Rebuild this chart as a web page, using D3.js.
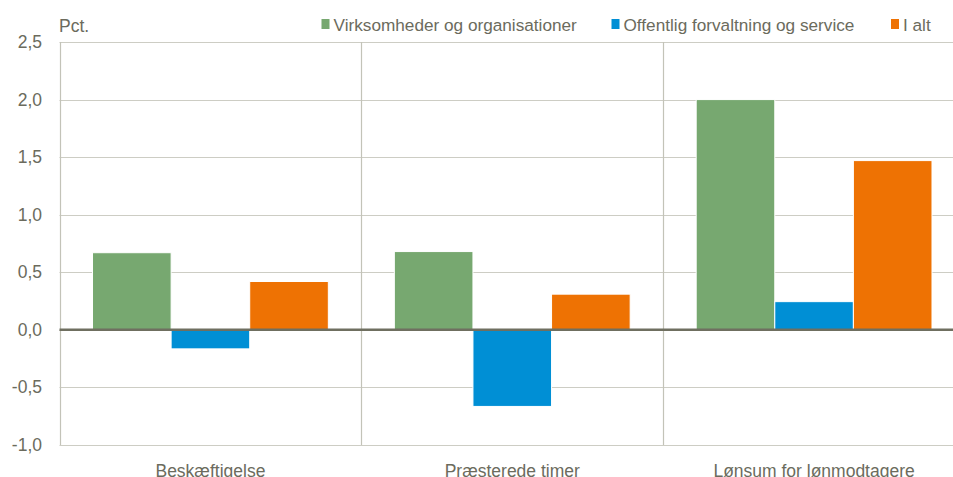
<!DOCTYPE html>
<html>
<head>
<meta charset="utf-8">
<script src="https://cdn.jsdelivr.net/npm/d3@7"></script>
<style>
  body { margin: 0; background: #fff; }
  text { font-family: "Liberation Sans", Arial, sans-serif; fill: #6b6b5d; }
</style>
</head>
<body>
<script>
var w = 953, h = 477;

// data
var categories = ["Beskæftigelse", "Præsterede timer", "Lønsum for lønmodtagere"];
var series = ["Virksomheder og organisationer", "Offentlig forvaltning og service", "I alt"];
var virksomheder = [0.67, 0.68, 2.00];
var offentlig = [-0.165, -0.665, 0.245];
var iAlt = [0.42, 0.31, 1.47];
var yTicks = [-1.0, -0.5, 0.0, 0.5, 1.0, 1.5, 2.0, 2.5];
var yTickLabels = ["-1,0", "-0,5", "0,0", "0,5", "1,0", "1,5", "2,0", "2,5"];

var seriesValues = [virksomheder, offentlig, iAlt];
var colors = ["#77a870", "#008fd5", "#ee7203"];

var svg = d3.select("body")
  .append("svg")
  .attr("width", w)
  .attr("height", h);

var plotLeft = 59.5, plotRight = 965, plotTop = 42, plotBottom = 445;

var x0 = d3.scaleBand()
  .domain(categories)
  .range([plotLeft, plotRight])
  .padding(0);

var x1 = d3.scaleBand()
  .domain(series)
  .range([0, x0.bandwidth()])
  .paddingInner(0)
  .paddingOuter(0.42);

var y = d3.scaleLinear()
  .domain([-1, 2.5])
  .range([plotBottom, plotTop]);

// horizontal gridlines
svg.append("g")
  .selectAll("line")
  .data(yTicks)
  .enter()
  .append("line")
  .attr("x1", plotLeft)
  .attr("x2", w)
  .attr("y1", function(d) { return Math.round(y(d)) + 0.5; })
  .attr("y2", function(d) { return Math.round(y(d)) + 0.5; })
  .style("stroke", "#cdcdc4")
  .style("stroke-width", 1.2);

// vertical separators (left axis + category borders)
var seps = [plotLeft].concat(categories.slice(1).map(function(c) { return x0(c); }));
svg.append("g")
  .selectAll("line")
  .data(seps)
  .enter()
  .append("line")
  .attr("x1", function(d) { return Math.round(d) + 0.5; })
  .attr("x2", function(d) { return Math.round(d) + 0.5; })
  .attr("y1", y(2.5))
  .attr("y2", y(-1))
  .style("stroke", "#c3c3b8")
  .style("stroke-width", 1.2);

// bars
var rows = [];
categories.forEach(function(c, i) {
  series.forEach(function(s, j) {
    rows.push({ cat: c, ser: s, value: seriesValues[j][i], color: colors[j] });
  });
});

svg.append("g")
  .selectAll("rect")
  .data(rows)
  .enter()
  .append("rect")
  .attr("x", function(d) { return x0(d.cat) + x1(d.ser); })
  .attr("width", x1.bandwidth())
  .attr("y", function(d) { return y(Math.max(0, d.value)); })
  .attr("height", function(d) { return Math.abs(y(d.value) - y(0)); })
  .style("fill", function(d) { return d.color; })
  .style("stroke", "#fff")
  .style("stroke-width", 1);

// zero line
svg.append("line")
  .attr("x1", plotLeft)
  .attr("x2", w)
  .attr("y1", y(0))
  .attr("y2", y(0))
  .style("stroke", "#6f6f60")
  .style("stroke-width", 2.5);

// y tick labels
svg.append("g")
  .selectAll("text")
  .data(yTicks)
  .enter()
  .append("text")
  .attr("x", 42)
  .attr("y", function(d) { return y(d) + 6; })
  .attr("text-anchor", "end")
  .style("font-size", "17.5px")
  .text(function(d, i) { return yTickLabels[i]; });

// unit
svg.append("text")
  .attr("x", 59)
  .attr("y", 32)
  .style("font-size", "17.5px")
  .text("Pct.");

// category labels
svg.append("g")
  .selectAll("text")
  .data(categories)
  .enter()
  .append("text")
  .attr("x", function(d) { return x0(d) + x0.bandwidth() / 2; })
  .attr("y", 477)
  .attr("text-anchor", "middle")
  .style("font-size", "17.5px")
  .text(function(d) { return d; });

// legend
var legendX = [321.5, 611.5, 891];
var legend = svg.append("g")
  .selectAll("g")
  .data(series)
  .enter()
  .append("g")
  .attr("transform", function(d, i) { return "translate(" + legendX[i] + ",0)"; });

legend.append("rect")
  .attr("x", 0)
  .attr("y", 19)
  .attr("width", 8)
  .attr("height", 10)
  .style("fill", function(d, i) { return colors[i]; });

legend.append("text")
  .attr("x", 12)
  .attr("y", 30.5)
  .style("font-size", "17.2px")
  .text(function(d) { return d; });
</script>
</body>
</html>
